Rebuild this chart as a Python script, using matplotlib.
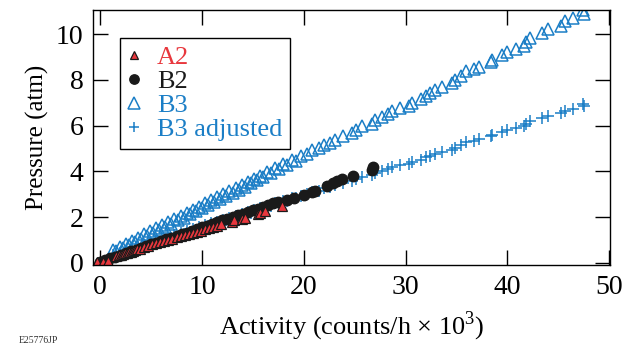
import matplotlib
matplotlib.use("Agg")
import matplotlib.pyplot as plt

plt.rcParams["font.family"] = ["Liberation Serif", "DejaVu Serif"]
plt.rcParams["mathtext.fontset"] = "custom"
plt.rcParams["mathtext.rm"] = "Liberation Serif"

BLUE = "#1b7ec6"
RED = "#e8373d"

# A2 (filled red triangles)
a2_x = [-0.3, 0.3, 0.8, 1.6, 1.8, 2.0, 2.2, 2.4, 2.6, 2.8, 3.0, 3.2, 3.4, 3.6, 3.9,
        4.3, 4.7, 5.1, 5.5, 5.9, 6.3, 6.7, 7.1, 7.5, 7.9, 8.3, 8.7, 9.1, 9.5, 9.9,
        10.3, 10.7, 11.1, 11.5, 11.9, 12.9, 13.1, 13.9, 14.2, 15.5, 15.7, 16.2, 17.9]
a2_y = [0.04, 0.05, 0.06, 0.30, 0.33, 0.36, 0.39, 0.41, 0.44, 0.47, 0.49, 0.52, 0.55, 0.58, 0.62,
        0.70, 0.74, 0.80, 0.85, 0.90, 0.95, 1.01, 1.05, 1.11, 1.15, 1.21, 1.26, 1.31, 1.36, 1.41,
        1.46, 1.52, 1.57, 1.62, 1.68, 1.77, 1.86, 1.92, 1.96, 2.15, 2.18, 2.28, 2.50]

# B2 (black circles)
b2_x = [0.0, 0.5, 1.0, 1.5, 2.0, 2.5, 3.0, 3.5, 4.0, 4.5, 5.0, 5.5, 6.0, 6.5, 7.0,
        7.5, 8.0, 8.5, 9.0, 9.5, 10.0, 10.5, 11.0, 11.5, 12.0, 12.5, 13.0, 13.5, 14.0,
        14.5, 15.0, 15.5, 16.0, 16.5, 17.0, 17.5, 18.4, 19.0, 20.0, 20.8, 21.1, 22.3,
        22.9, 23.3, 23.8, 24.8, 26.7, 26.8]
b2_y = [0.05, 0.12, 0.19, 0.27, 0.34, 0.42, 0.50, 0.57, 0.65, 0.72, 0.80, 0.87, 0.95, 1.02, 1.10,
        1.17, 1.25, 1.32, 1.40, 1.47, 1.55, 1.62, 1.70, 1.77, 1.85, 1.92, 2.00, 2.07, 2.15,
        2.22, 2.30, 2.37, 2.45, 2.52, 2.60, 2.67, 2.76, 2.84, 2.98, 3.08, 3.15, 3.35,
        3.49, 3.56, 3.68, 3.78, 4.07, 4.20]

# B3 (open blue triangles)
b3_x = [1.3, 1.6, 1.9, 2.2, 2.5, 2.8, 3.1, 3.4, 3.7, 4.0, 4.3, 4.6, 4.9, 5.2, 5.5,
        5.8, 6.1, 6.4, 6.7, 7.0, 7.3, 7.6, 7.9, 8.2, 8.5, 8.8, 9.1, 9.4, 9.7, 10.0,
        10.3, 10.6, 10.9, 11.2, 11.5, 11.8, 12.1, 12.4, 12.7, 13.0, 13.3, 13.6, 13.9, 14.2, 14.5,
        14.8, 15.1, 15.4, 15.7, 16.0, 16.4, 16.8, 17.2, 17.6, 18.0, 18.4, 18.8, 19.2, 19.7, 20.3,
        20.8, 21.5, 22.0, 22.6, 23.1, 23.9, 24.7, 25.1, 25.7, 26.7, 27.0, 27.7, 28.3, 28.7, 29.5,
        30.3, 30.6, 31.5, 32.0, 32.4, 32.9, 33.6, 34.6, 34.9, 35.4, 35.9, 36.7, 37.2, 38.4, 38.5,
        39.5, 40.0, 40.8, 41.6, 41.8, 42.2, 43.4, 44.0, 45.3, 45.7, 46.4, 47.5, 47.4]
b3_y = [0.55, 0.50, 0.70, 0.64, 0.84, 0.78, 0.97, 0.91, 1.10, 1.04, 1.25, 1.18, 1.37, 1.31, 1.52,
        1.45, 1.64, 1.58, 1.79, 1.71, 1.91, 1.85, 2.05, 1.98, 2.19, 2.12, 2.32, 2.26, 2.46, 2.39,
        2.60, 2.52, 2.73, 2.66, 2.86, 2.79, 3.00, 2.93, 3.13, 3.06, 3.27, 3.20, 3.40, 3.33, 3.54,
        3.47, 3.67, 3.60, 3.80, 3.74, 3.95, 3.93, 4.13, 4.10, 4.30, 4.29, 4.49, 4.47, 4.66, 4.77,
        4.92, 5.02, 5.17, 5.24, 5.38, 5.56, 5.70, 5.82, 5.97, 6.08, 6.23, 6.40, 6.52, 6.66, 6.77,
        6.87, 6.99, 7.16, 7.31, 7.42, 7.54, 7.69, 7.86, 8.00, 8.18, 8.37, 8.48, 8.58, 8.78, 8.88,
        9.08, 9.22, 9.36, 9.50, 9.64, 9.85, 10.04, 10.22, 10.38, 10.57, 10.72, 10.90, 11.05]

# B3 adjusted (blue plus), same activity values as B3
b3_adj_y = [0.35, 0.32, 0.44, 0.40, 0.53, 0.49, 0.61, 0.57, 0.69, 0.66, 0.79, 0.74, 0.86, 0.83, 0.96,
            0.91, 1.03, 1.00, 1.13, 1.08, 1.20, 1.17, 1.29, 1.25, 1.38, 1.34, 1.46, 1.42, 1.55, 1.51,
            1.64, 1.59, 1.72, 1.68, 1.80, 1.76, 1.89, 1.85, 1.97, 1.93, 2.06, 2.02, 2.14, 2.10, 2.23,
            2.19, 2.31, 2.27, 2.39, 2.36, 2.49, 2.48, 2.60, 2.58, 2.71, 2.70, 2.83, 2.82, 2.94, 3.01,
            3.10, 3.16, 3.26, 3.30, 3.39, 3.50, 3.59, 3.67, 3.76, 3.83, 3.92, 4.03, 4.11, 4.20, 4.27,
            4.33, 4.40, 4.51, 4.61, 4.67, 4.75, 4.84, 4.95, 5.04, 5.15, 5.27, 5.34, 5.41, 5.53, 5.59,
            5.72, 5.81, 5.90, 5.99, 6.07, 6.21, 6.33, 6.44, 6.54, 6.66, 6.75, 6.87, 6.96]

x_ticks = [0, 10, 20, 30, 40, 50]
y_ticks = [0, 2, 4, 6, 8, 10]

fig = plt.figure(figsize=(6.33, 3.46), dpi=100)
ax = fig.add_axes([0.147, 0.234, 0.817, 0.737])

ax.plot(b3_x, b3_adj_y, ls="none", marker="+", ms=8, mew=1.1, color=BLUE, label="B3 adjusted")
ax.plot(b3_x, b3_y, ls="none", marker="^", ms=9, mew=1.1, mfc="none", mec=BLUE, label="B3")
ax.plot(b2_x, b2_y, ls="none", marker="o", ms=7.5, color="#1a1a1a", label="B2")
ax.plot(a2_x, a2_y, ls="none", marker="^", ms=7, mfc=RED, mec="#1a1a1a", mew=0.9, label="A2")

ax.set_xlim(-0.7, 50.1)
ax.set_ylim(-0.1, 11.06)
ax.set_xticks(x_ticks)
ax.set_yticks(y_ticks)
ax.tick_params(direction="in", length=11, width=1.0, labelsize=20,
               top=True, right=True, pad=7)
for s in ax.spines.values():
    s.set_linewidth(1.0)

ax.set_xlabel("Activity (counts/h × 10$^{\\rm 3}$)", fontsize=19, labelpad=7)
ax.set_ylabel("Pressure (atm)", fontsize=18, labelpad=5)

handles, labels = ax.get_legend_handles_labels()
order = [3, 2, 1, 0]
leg = ax.legend([handles[i] for i in order], [labels[i] for i in order],
                loc="upper left", bbox_to_anchor=(0.052, 0.89), borderaxespad=0,
                fontsize=19, handlelength=0.5, handletextpad=0.6, labelspacing=0.02,
                borderpad=0.3, fancybox=False, edgecolor="black", framealpha=1,
                markerscale=0.9)
leg.get_frame().set_linewidth(1.0)
for t, c in zip(leg.get_texts(), [RED, "#1a1a1a", BLUE, BLUE]):
    t.set_color(c)

fig.text(0.03, 0.003, "E25776JP", fontsize=7, va="bottom", color="#333333")

fig.savefig("out.png", dpi=100)
